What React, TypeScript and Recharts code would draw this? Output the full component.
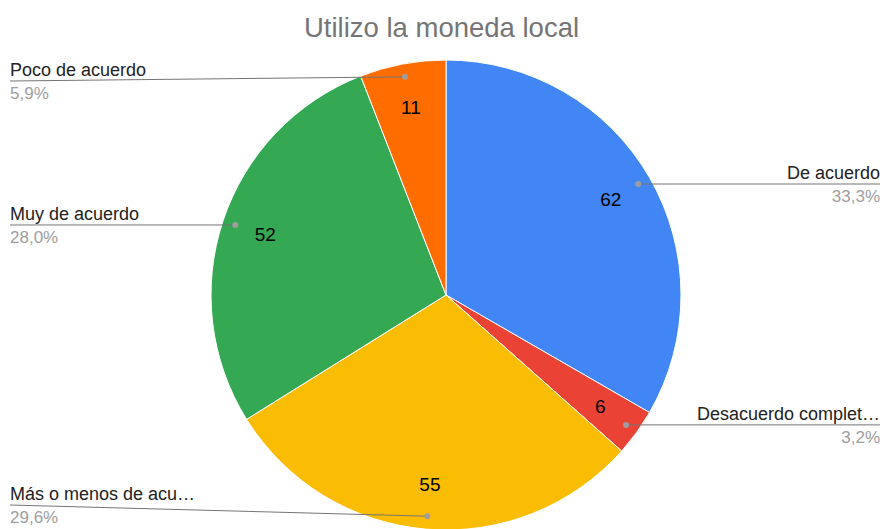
import { PieChart, Pie, Cell } from "recharts";

document.body.style.margin = "0";

const categories = [
  "De acuerdo",
  "Desacuerdo completamente",
  "Más o menos de acuerdo",
  "Muy de acuerdo",
  "Poco de acuerdo",
];
const counts = [62, 6, 55, 52, 11];
const sliceColors = ["#4285f4", "#ea4335", "#fbbc04", "#34a853", "#ff6d01"];

const WIDTH = 883;
const HEIGHT = 529;
const FONT = "Arial, 'Liberation Sans', sans-serif";

const total = counts.reduce((a, b) => a + b, 0);
const data = categories.map((name, i) => ({ name, value: counts[i] }));

const RAD = Math.PI / 180;

// shorten long names like the original does
const shorten = (s: string) => (s.length > 20 ? s.slice(0, 18) + "…" : s);

const renderLabel = (props: any) => {
  const { cx, cy, midAngle, outerRadius, name, value } = props;
  const cos = Math.cos(-midAngle * RAD);
  const sin = Math.sin(-midAngle * RAD);
  const dotR = outerRadius - 13;
  const dx = cx + dotR * cos;
  const dy = cy + dotR * sin;
  const inR = outerRadius * 0.81;
  const ix = cx + inR * cos;
  const iy = cy + inR * sin;
  const right = cos >= 0;
  const endX = right ? WIDTH - 3 : 10;
  const endY = Math.min(Math.max(dy, 81), HEIGHT - 24);
  const pct = ((value / total) * 100).toFixed(1).replace(".", ",") + "%";
  const anchor = right ? "end" : "start";
  return (
    <g>
      <text
        x={ix}
        y={iy}
        textAnchor="middle"
        dominantBaseline="central"
        fill="#000"
        fontSize={19}
        fontFamily={FONT}
      >
        {value}
      </text>
      <line x1={dx} y1={dy} x2={endX} y2={endY} stroke="#757575" strokeWidth={1} />
      <circle cx={dx} cy={dy} r={3} fill="#9e9e9e" />
      <text x={endX} y={endY - 5} textAnchor={anchor} fill="#222" fontSize={18} fontFamily={FONT}>
        {shorten(name)}
      </text>
      <text x={endX} y={endY + 18} textAnchor={anchor} fill="#9e9e9e" fontSize={17} fontFamily={FONT}>
        {pct}
      </text>
    </g>
  );
};

export default function App() {
  return (
    <div style={{ position: "relative", width: WIDTH, height: HEIGHT, background: "#fff" }}>
      <div
        style={{
          position: "absolute",
          top: 12,
          left: 0,
          width: WIDTH,
          textAlign: "center",
          fontFamily: FONT,
          fontSize: 27.5,
          lineHeight: "32px",
          color: "#757575",
        }}
      >
        Utilizo la moneda local
      </div>
      <PieChart width={WIDTH} height={HEIGHT} margin={{ top: 0, right: 0, bottom: 0, left: 0 }}>
        <Pie
          data={data}
          dataKey="value"
          nameKey="name"
          cx={446}
          cy={295}
          outerRadius={235}
          startAngle={90}
          endAngle={-270}
          stroke="#fff"
          strokeWidth={1}
          label={renderLabel}
          labelLine={false}
          isAnimationActive={false}
        >
          {data.map((d, i) => (
            <Cell key={`cell-${i}`} fill={sliceColors[i]} />
          ))}
        </Pie>
      </PieChart>
    </div>
  );
}
